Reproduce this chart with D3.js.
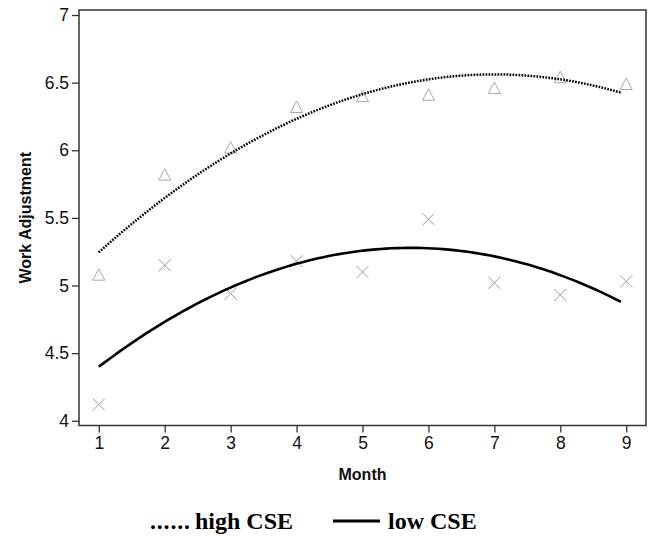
<!DOCTYPE html>
<html>
<head>
<meta charset="utf-8">
<script src="https://cdn.jsdelivr.net/npm/d3@7"></script>
<style>
  html, body { margin: 0; padding: 0; background: #fff; }
  svg { display: block; }
</style>
</head>
<body>
<svg id="chart" width="649" height="537"></svg>
<script>
// Monthly work adjustment means by career self-efficacy group
const months = [1, 2, 3, 4, 5, 6, 7, 8, 9];
const highCSE = [5.08, 5.82, 6.02, 6.32, 6.40, 6.41, 6.46, 6.54, 6.49];
const lowCSE  = [4.12, 5.15, 4.94, 5.18, 5.10, 5.49, 5.02, 4.93, 5.03];
const yTicks = [4, 4.5, 5, 5.5, 6, 6.5, 7];
const xTicks = [1, 2, 3, 4, 5, 6, 7, 8, 9];
const fitRange = [1, 8.92];

const svg = d3.select("#chart");
const margin = { left: 79, top: 10, right: 3, bottom: 111.5 };
const W = 649, H = 537;

const x = d3.scaleLinear().domain([0.7, 9.3]).range([margin.left, W - margin.right]);
const y = d3.scaleLinear().domain([3.965, 7.037]).range([H - margin.bottom, margin.top]);

// Ordinary least-squares quadratic fit y = b0 + b1*x + b2*x^2
function quadFit(xs, ys) {
  const n = xs.length;
  let s = [0, 0, 0, 0, 0], t = [0, 0, 0];
  for (let i = 0; i < n; i++) {
    let p = 1;
    for (let k = 0; k < 5; k++) { s[k] += p; if (k < 3) t[k] += p * ys[i]; p *= xs[i]; }
  }
  const A = [[s[0], s[1], s[2], t[0]], [s[1], s[2], s[3], t[1]], [s[2], s[3], s[4], t[2]]];
  for (let c = 0; c < 3; c++) {
    for (let r = c + 1; r < 3; r++) {
      const f = A[r][c] / A[c][c];
      for (let k = c; k < 4; k++) A[r][k] -= f * A[c][k];
    }
  }
  const b = [0, 0, 0];
  for (let r = 2; r >= 0; r--) {
    let v = A[r][3];
    for (let k = r + 1; k < 3; k++) v -= A[r][k] * b[k];
    b[r] = v / A[r][r];
  }
  return xv => b[0] + b[1] * xv + b[2] * xv * xv;
}

function fitPoints(ys) {
  const f = quadFit(months, ys);
  return d3.range(0, 101).map(i => {
    const xv = fitRange[0] + (fitRange[1] - fitRange[0]) * i / 100;
    return [xv, f(xv)];
  });
}

const line = d3.line().x(d => x(d[0])).y(d => y(d[1]));

// Axes
const xAxis = svg.append("g")
  .attr("transform", `translate(0,${H - margin.bottom})`)
  .call(d3.axisBottom(x).tickValues(xTicks).tickSize(7).tickPadding(4).tickFormat(d3.format("d")));
const yAxis = svg.append("g")
  .attr("transform", `translate(${margin.left},0)`)
  .call(d3.axisLeft(y).tickValues(yTicks).tickSize(7).tickPadding(3).tickFormat(d3.format("~g")));

[xAxis, yAxis].forEach(g => {
  g.select(".domain").remove();
  g.selectAll(".tick line").attr("stroke", "#333").attr("stroke-width", 1.3);
  g.selectAll(".tick text")
    .attr("fill", "#111")
    .style("font-family", "'Liberation Sans', Arial, sans-serif")
    .style("font-size", "17.5px");
});

// Plot frame
svg.append("rect")
  .attr("x", margin.left).attr("y", margin.top)
  .attr("width", W - margin.right - margin.left)
  .attr("height", H - margin.bottom - margin.top)
  .attr("fill", "none").attr("stroke", "#333").attr("stroke-width", 1.5);

// Axis titles
svg.append("text")
  .attr("x", x(5)).attr("y", 480)
  .attr("text-anchor", "middle")
  .style("font-family", "'Liberation Sans', Arial, sans-serif")
  .style("font-size", "16px").style("font-weight", "bold")
  .attr("fill", "#111")
  .text("Month");
svg.append("text")
  .attr("transform", `translate(31,${(margin.top + H - margin.bottom) / 2}) rotate(-90)`)
  .attr("text-anchor", "middle")
  .style("font-family", "'Liberation Sans', Arial, sans-serif")
  .style("font-size", "16px").style("font-weight", "bold")
  .attr("fill", "#111")
  .text("Work Adjustment");

// Observed means: triangles for high CSE, crosses for low CSE
const markColor = "#a8a8a8";
svg.append("g").selectAll("path")
  .data(months.map((m, i) => [m, highCSE[i]]))
  .join("path")
  .attr("transform", d => `translate(${x(d[0])},${y(d[1])})`)
  .attr("d", "M0,-6L6,5.5L-6,5.5Z")
  .attr("fill", "none").attr("stroke", markColor).attr("stroke-width", 1);

svg.append("g").selectAll("path")
  .data(months.map((m, i) => [m, lowCSE[i]]))
  .join("path")
  .attr("transform", d => `translate(${x(d[0])},${y(d[1])})`)
  .attr("d", "M-6,-6L6,6M6,-6L-6,6")
  .attr("fill", "none").attr("stroke", "#999").attr("stroke-width", 1);

// Quadratic trend curves
svg.append("path")
  .attr("d", line(fitPoints(highCSE)))
  .attr("fill", "none").attr("stroke", "#000")
  .attr("stroke-width", 2.5).attr("stroke-dasharray", "1.7,1.3");
svg.append("path")
  .attr("d", line(fitPoints(lowCSE)))
  .attr("fill", "none").attr("stroke", "#000")
  .attr("stroke-width", 2.6);

// Legend
const legendFont = "'Liberation Serif', 'Times New Roman', serif";
const legend = svg.append("g")
  .style("font-family", legendFont).style("font-size", "24px").style("font-weight", "bold")
  .attr("fill", "#000");
legend.append("text").attr("x", 150).attr("y", 529)
  .style("letter-spacing", "0.8px").text("......");
legend.append("text").attr("x", 195).attr("y", 529).text("high CSE");
legend.append("line")
  .attr("x1", 333).attr("x2", 380).attr("y1", 521).attr("y2", 521)
  .attr("stroke", "#000").attr("stroke-width", 3);
legend.append("text").attr("x", 388).attr("y", 529).text("low CSE");
</script>
</body>
</html>
